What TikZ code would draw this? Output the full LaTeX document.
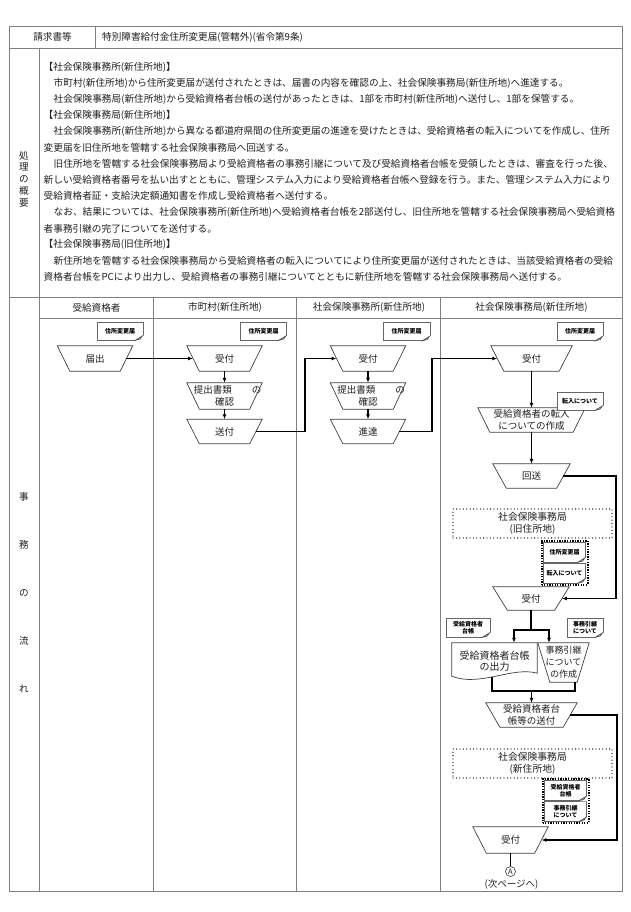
\documentclass[tikz,border=0pt]{standalone}
\usepackage{fontspec}
\setmainfont{Noto Sans CJK JP}
\usetikzlibrary{arrows.meta}
\XeTeXlinebreaklocale "ja"
\XeTeXlinebreakskip=0pt plus 1pt
\newcommand\fsz[2]{\fontsize{#1}{#2}\selectfont}
\newcommand\trapz[2]{\draw[shp] (#1.north west) -- (#1.north east) -- ([xshift=-#2]#1.south east) -- ([xshift=#2]#1.south west) -- cycle;}
\newcommand\mycurl[1]{%
  \fill[white] ([xshift=-8pt,yshift=-0.5pt]#1.south east) -- ([xshift=0.5pt,yshift=-0.5pt]#1.south east) -- ([xshift=0.5pt,yshift=5pt]#1.south east) -- cycle;
  \draw[curlst] ([xshift=-8pt]#1.south east) -- ([yshift=5pt]#1.south east);
  \draw[curlst,fill=black!25] ([xshift=-8pt]#1.south east) -- ([xshift=-3pt,yshift=1.2pt]#1.south east) -- ([xshift=-1.2pt,yshift=4pt]#1.south east) -- cycle;
}
\definecolor{ink}{gray}{0.12}
\definecolor{tbl}{gray}{0.5}
\begin{document}
\begin{tikzpicture}[x=1pt,y=-1pt,
  tline/.style={draw=tbl,line width=0.9pt},
  txt/.style={inner sep=0pt,anchor=west,text=ink,font=\fsz{9.65}{12}},
  hdr/.style={inner sep=0pt,text=ink,font=\fsz{9.6}{12}},
  tp/.style={rectangle,inner sep=0pt,text=ink,align=center,font=\fsz{9.5}{11.5}},
  shp/.style={draw=black!75,line width=0.7pt,line join=miter},
  conn/.style={draw=black,line width=1.3pt,line join=miter},
  arr/.style={conn,-{Latex[length=5pt,width=4pt]}},
  docicon/.style={rectangle,draw=black!60,line width=0.6pt,fill=white,inner sep=0pt,text=black,align=center,font=\bfseries\fsz{6}{7}},
  dotbox/.style={rectangle,draw=black,line width=1.3pt,dash pattern=on 0pt off 3.4pt,line cap=round,inner sep=0pt,text=ink,align=center,font=\fsz{9.8}{11.5}},
  grpbox/.style={rectangle,draw=black,line width=2pt,dash pattern=on 1.3pt off 1.3pt,inner sep=0pt},
  curlst/.style={draw=black!70,line width=0.5pt},
]
\useasboundingbox[fill=white] (0,0) rectangle (630,912);
% ---- table frame
\draw[tline] (9.5,26) rectangle (622.5,891);
\draw[tline] (9.5,48) -- (622.5,48);
\draw[tline] (95.5,26) -- (95.5,48);
\draw[tline] (9.5,297) -- (622.5,297);
\draw[tline] (39,48) -- (39,891);
\draw[tline] (39,318) -- (622.5,318);
\foreach \x in {153.3,296.7,440.7} \draw[tline] (\x,297) -- (\x,891);
% ---- header
\node[hdr] (h1) at (52.5,37) {請求書等};
\node[hdr,anchor=west] (h2) at (102,37) {特別障害給付金住所変更届(管轄外)(省令第9条)};
% ---- vertical labels
\node[hdr,align=center,font=\fsz{9.6}{11.8}] (v1) at (24,179) {処\\理\\の\\概\\要};
\node[hdr,align=center,font=\fsz{9.6}{48}] (v2) at (24,593) {事\\務\\の\\流\\れ};
% ---- summary text
\node[txt] (t1) at (43.5,67) {【社会保険事務所(新住所地)】};
\node[txt] (t2) at (53.5,83.2) {市町村(新住所地)から住所変更届が送付されたときは、届書の内容を確認の上、社会保険事務局(新住所地)へ進達する。};
\node[txt] (t3) at (53.5,99.3) {社会保険事務局(新住所地)から受給資格者台帳の送付があったときは、1部を市町村(新住所地)へ送付し、1部を保管する。};
\node[txt] (t4) at (43.5,115.5) {【社会保険事務局(新住所地)】};
\node[txt] (t5) at (53.5,131.6) {\hbox to 564.5pt{社会保険事務所(新住所地)から異なる都道府県間の住所変更届の進達を受けたときは、受給資格者の転入についてを作成し、住所}};
\node[txt] (t6) at (43.5,147.8) {変更届を旧住所地を管轄する社会保険事務局へ回送する。};
\node[txt] (t7) at (53.5,163.9) {\hbox to 564.5pt{旧住所地を管轄する社会保険事務局より受給資格者の事務引継について及び受給資格者台帳を受領したときは、審査を行った後、}};
\node[txt] (t8) at (43.5,180.1) {\hbox to 574.5pt{新しい受給資格者番号を払い出すとともに、管理システム入力により受給資格者台帳へ登録を行う。また、管理システム入力により}};
\node[txt] (t9) at (43.5,196.2) {受給資格者証・支給決定額通知書を作成し受給資格者へ送付する。};
\node[txt] (t10) at (53.5,212.4) {\hbox to 564.5pt{なお、結果については、社会保険事務所(新住所地)へ受給資格者台帳を2部送付し、旧住所地を管轄する社会保険事務局へ受給資格}};
\node[txt] (t11) at (43.5,228.5) {者事務引継の完了についてを送付する。};
\node[txt] (t12) at (43.5,244.7) {【社会保険事務局(旧住所地)】};
\node[txt] (t13) at (53.5,260.8) {\hbox to 564.5pt{新住所地を管轄する社会保険事務局から受給資格者の転入についてにより住所変更届が送付されたときは、当該受給資格者の受給}};
\node[txt] (t14) at (43.5,277) {資格者台帳をPCにより出力し、受給資格者の事務引継についてとともに新住所地を管轄する社会保険事務局へ送付する。};
% ---- lane headers
\node[hdr] (l1) at (96.5,307.5) {受給資格者};
\node[hdr] (l2) at (225,307.5) {市町村(新住所地)};
\node[hdr] (l3) at (369,307.5) {社会保険事務所(新住所地)};
\node[hdr] (l4) at (531.5,307.5) {社会保険事務局(新住所地)};
% ---- flow nodes
\node[tp,minimum width=75pt,minimum height=25pt] (n1) at (95,358.5) {届出};
\node[tp,minimum width=75pt,minimum height=25pt] (n2) at (224.5,358.5) {受付};
\node[tp,minimum width=75pt,minimum height=26pt] (n3) at (224.5,396) {\hspace*{6pt}提出書類\hspace{20pt}の\\確認};
\node[tp,minimum width=75pt,minimum height=24pt] (n4) at (224.5,431.5) {送付};
\node[tp,minimum width=75pt,minimum height=25pt] (n5) at (368,358.5) {受付};
\node[tp,minimum width=75pt,minimum height=26pt] (n6) at (368,396) {\hspace*{6pt}提出書類\hspace{20pt}の\\確認};
\node[tp,minimum width=75pt,minimum height=24pt] (n7) at (368,431.5) {進達};
\node[tp,minimum width=81pt,minimum height=25pt] (n8) at (531.5,358.5) {受付};
\node[tp,minimum width=107pt,minimum height=24pt] (n9) at (531.5,420) {受給資格者の転入\\についての作成};
\node[tp,minimum width=77pt,minimum height=24pt] (n10) at (531.5,476) {回送};
\node[tp,minimum width=76pt,minimum height=23pt] (n11) at (531,598.5) {受付};
\node[tp,minimum width=85pt,minimum height=36pt,font=\fsz{10}{11.5}] (n12) at (494.5,661) {受給資格者台帳\\の出力};
\node[tp,minimum width=51pt,minimum height=39pt,font=\fsz{9}{12}] (n13) at (563.5,662.5) {事務引継\\について\\の作成};
\node[tp,minimum width=91pt,minimum height=24pt] (n14) at (531.5,715) {受給資格者台\\帳等の送付};
\node[tp,minimum width=75pt,minimum height=26pt] (n15) at (510.5,840) {受付};
\node[circle,draw=black!80,line width=0.6pt,minimum size=10pt,inner sep=0pt,font=\fsz{7.5}{8},text=ink] (ca) at (510.5,871.5) {A};
\node[hdr,font=\fsz{9.5}{11}] (nx) at (511.5,884.5) {(次ページへ)};
\trapz{n1}{12.5pt}
\trapz{n2}{12.5pt}
\trapz{n3}{12.5pt}
\trapz{n4}{12.5pt}
\trapz{n5}{12.5pt}
\trapz{n6}{12.5pt}
\trapz{n7}{12.5pt}
\trapz{n8}{13pt}
\trapz{n9}{12pt}
\trapz{n10}{13.5pt}
\trapz{n11}{14.5pt}
\trapz{n13}{12pt}
\trapz{n14}{14pt}
\trapz{n15}{13.5pt}
\draw[shp] (n12.north west) -- (n12.north east) -- ([yshift=6pt]n12.south east) .. controls ([xshift=-25pt,yshift=13pt]n12.south east) and ([xshift=28pt,yshift=-8pt]n12.south west) .. ([yshift=3pt]n12.south west) -- cycle;
% ---- dotted office boxes
\node[dotbox,minimum width=159pt,minimum height=29pt] (b1) at (532.5,523.5) {社会保険事務局\\(旧住所地)};
\node[dotbox,minimum width=159pt,minimum height=29pt] (b2) at (532.5,763.5) {社会保険事務局\\(新住所地)};
% ---- document icons
\node[docicon,minimum width=46pt,minimum height=18pt] (d1) at (120,331) {住所変更届};
\node[docicon,minimum width=46pt,minimum height=18pt] (d2) at (263.5,331) {住所変更届};
\node[docicon,minimum width=47pt,minimum height=18pt] (d3) at (406.5,331.5) {住所変更届};
\node[docicon,minimum width=46pt,minimum height=18pt] (d4) at (580,331.5) {住所変更届};
\node[docicon,minimum width=46pt,minimum height=18pt] (d5) at (580,401) {転入について};
\node[docicon,minimum width=42pt,minimum height=20pt] (d6) at (564.5,552) {住所変更届};
\node[docicon,minimum width=42pt,minimum height=20pt] (d7) at (564.5,573) {転入について};
\node[docicon,minimum width=44pt,minimum height=19pt] (d8) at (468,627.5) {受給資格者\\台帳};
\node[docicon,minimum width=36pt,minimum height=19pt] (d9) at (585,627.5) {事務引継\\について};
\node[docicon,minimum width=42pt,minimum height=20pt] (d10) at (565.5,790.5) {受給資格者\\台帳};
\node[docicon,minimum width=42pt,minimum height=20pt] (d11) at (565.5,811.5) {事務引継\\について};
\foreach \d in {d1,d2,d3,d4,d5,d6,d7,d8,d9,d10,d11} {\mycurl{\d}}
\node[grpbox,minimum width=46pt,minimum height=44pt] (g1) at (564.5,562.5) {};
\node[grpbox,minimum width=46pt,minimum height=44pt] (g2) at (565.5,801) {};
% ---- connectors
\coordinate (k1) at (305,431.5);
\coordinate (k2) at (432,431.5);
\coordinate (k3) at (616,476);
\coordinate (k4) at (617,715);
\coordinate (sp) at (531,630);
\coordinate (s1) at (514,630);
\coordinate (s2) at (549,630);
\coordinate (m1) at (492,691);
\coordinate (m2) at (575,691);
\coordinate (mm) at (531.5,691);
\draw[arr] ([xshift=-6.25pt]n1.east) -- ([xshift=6.25pt]n2.west);
\draw[arr] (n2.south) -- (n3.north);
\draw[arr] (n3.south) -- (n4.north);
\draw[arr] ([xshift=-6.25pt]n4.east) -- (k1) |- ([xshift=6.25pt]n5.west);
\draw[arr] (n5.south) -- (n6.north);
\draw[arr] (n6.south) -- (n7.north);
\draw[arr] ([xshift=-6.25pt]n7.east) -- (k2) |- ([xshift=6.5pt]n8.west);
\draw[arr] (n8.south) -- (n9.north);
\draw[arr] (n9.south) -- (n10.north);
\draw[arr] ([xshift=-6.75pt]n10.east) -- (k3) |- ([xshift=-7.25pt]n11.east);
\draw[conn] (n11.south) -- (sp);
\draw[arr] (sp) -- (s1) -- (s1 |- n12.north);
\draw[arr] (sp) -- (s2) -- (s2 |- n13.north);
\draw[conn] ([yshift=2pt]m1 |- n12.south) -- (m1) -- (m2) -- (m2 |- n13.south);
\draw[arr] (mm) -- (n14.north);
\draw[arr] ([xshift=-7pt]n14.east) -- (k4) |- ([xshift=-6.75pt]n15.east);
\draw[conn] (n15.south) -- (ca.north);
\end{tikzpicture}
\end{document}
